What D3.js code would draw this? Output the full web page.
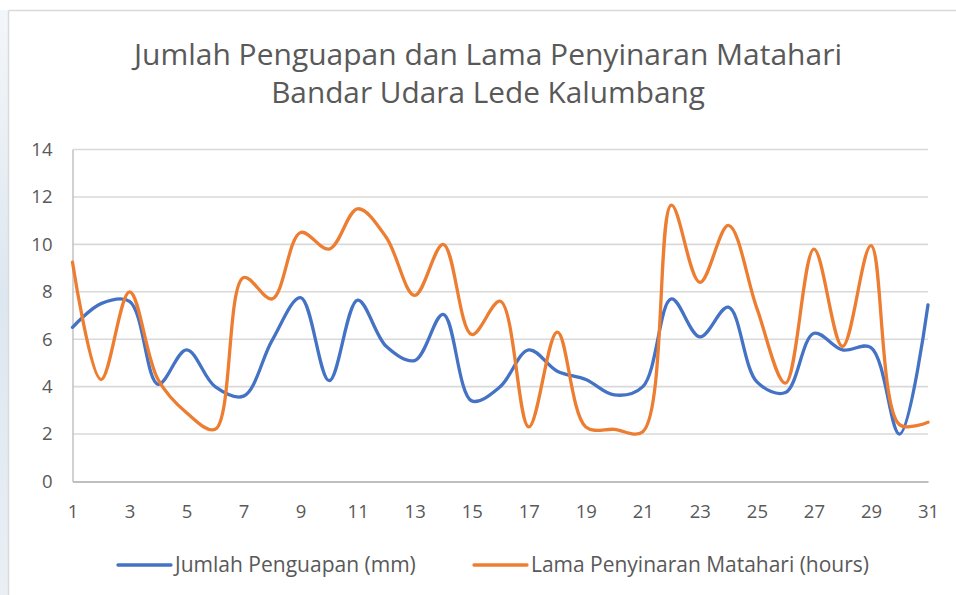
<!DOCTYPE html>
<html>
<head>
<meta charset="utf-8">
<script src="https://cdn.jsdelivr.net/npm/d3@7"></script>
<style>
  html, body { margin: 0; padding: 0; background: #fff; }
  svg { display: block; }
</style>
</head>
<body>
<svg id="chart" width="956" height="595"></svg>
<script>
const days = d3.range(1, 32);
const penguapan = [6.5, 7.5, 7.6, 4.1, 5.55, 4.0, 3.6, 5.95, 7.75, 4.25, 7.65, 5.7, 5.1, 7.05, 3.4, 4.0,
  5.55, 4.65, 4.3, 3.65, 4.0, 7.7, 6.1, 7.35, 4.2, 3.75, 6.25, 5.55, 5.65, 2.0, 7.45];
const penyinaran = [9.25, 4.3, 8.0, 4.3, 2.9, 2.2, 8.6, 7.7, 10.5, 9.8, 11.5, 10.3, 7.85, 10.0, 6.2, 7.6,
  2.3, 6.3, 2.3, 2.2, 2.1, 11.65, 8.4, 10.8, 7.3, 4.15, 9.8, 5.7, 9.95, 2.4, 2.5];
const yTicks = [0, 2, 4, 6, 8, 10, 12, 14];
const xTicks = d3.range(1, 32, 2);
const titleLines = ["Jumlah Penguapan dan Lama Penyinaran Matahari", "Bandar Udara Lede Kalumbang"];
const seriesNames = ["Jumlah Penguapan (mm)", "Lama Penyinaran Matahari (hours)"];
const colors = ["#4472C4", "#ED7D31"];

const svg = d3.select("#chart");
const font = "'Open Sans', 'Segoe UI', sans-serif";

// background strip and frame
const grad = svg.append("defs").append("linearGradient").attr("id", "lg")
  .attr("x1", 0).attr("y1", 0).attr("x2", 0).attr("y2", 1);
grad.append("stop").attr("offset", "0%").attr("stop-color", "#f4f7fa");
grad.append("stop").attr("offset", "50%").attr("stop-color", "#dde7f0");
grad.append("stop").attr("offset", "100%").attr("stop-color", "#e9eff5");
svg.append("rect").attr("x", 0).attr("y", 0).attr("width", 8).attr("height", 595).attr("fill", "url(#lg)");
svg.append("rect").attr("x", 0).attr("y", 0).attr("width", 956).attr("height", 10).attr("fill", "#fff");
svg.append("line").attr("x1", 8.5).attr("x2", 8.5).attr("y1", 10.5).attr("y2", 595)
  .attr("stroke", "#d9d9d9").attr("stroke-width", 1.5);
svg.append("line").attr("x1", 8.5).attr("x2", 956).attr("y1", 10.5).attr("y2", 10.5)
  .attr("stroke", "#d9d9d9").attr("stroke-width", 1.5);

const x = d3.scaleLinear().domain([1, 31]).range([72.5, 928]);
const y = d3.scaleLinear().domain([0, 14]).range([481.5, 149.5]);

function fitText(sel, target) {
  const w = sel.node().getComputedTextLength();
  const fs = parseFloat(sel.attr("font-size"));
  sel.attr("font-size", (fs * target / w).toFixed(2));
}

// title
const tw = [708, 434];
const tb = [65, 103];
titleLines.forEach((t, i) => {
  const s = svg.append("text").attr("x", 488).attr("y", tb[i]).attr("text-anchor", "middle")
    .attr("font-family", font).attr("font-size", 28).attr("fill", "#595959").text(t);
  fitText(s, tw[i]);
});

// gridlines
svg.append("g").selectAll("line").data(yTicks.filter(d => d > 0)).join("line")
  .attr("x1", x(1)).attr("x2", x(31))
  .attr("y1", d => y(d)).attr("y2", d => y(d))
  .attr("stroke", "#d9d9d9").attr("stroke-width", 1.6);

// y axis
const yAxis = svg.append("g").attr("transform", `translate(${x(1)},0)`)
  .call(d3.axisLeft(y).tickValues(yTicks).tickSize(0).tickPadding(20));
yAxis.select(".domain").attr("stroke", "#c6c6c6").attr("stroke-width", 1.6);
yAxis.selectAll("text").attr("font-family", font).attr("font-size", 18.5).attr("fill", "#595959");

// x axis
const xAxis = svg.append("g").attr("transform", `translate(0,${y(0)})`)
  .call(d3.axisBottom(x).tickValues(xTicks).tickSize(0).tickPadding(23).tickFormat(d3.format("d")));
xAxis.select(".domain").attr("stroke", "#bfbfbf").attr("stroke-width", 1.8);
xAxis.selectAll("text").attr("font-family", font).attr("font-size", 18.5).attr("fill", "#595959");

// lines
const line = d3.line().x((d, i) => x(days[i])).y(d => y(d)).curve(d3.curveCatmullRom.alpha(0.5));
[penguapan, penyinaran].forEach((s, i) => {
  svg.append("path").datum(s).attr("d", line).attr("fill", "none")
    .attr("stroke", colors[i]).attr("stroke-width", 3.3)
    .attr("stroke-linejoin", "round").attr("stroke-linecap", "round");
});

// legend
const legX = [118, 474];
const legW = [241, 338];
seriesNames.forEach((n, i) => {
  svg.append("line").attr("x1", legX[i]).attr("x2", legX[i] + 53).attr("y1", 565).attr("y2", 565)
    .attr("stroke", colors[i]).attr("stroke-width", 3.3).attr("stroke-linecap", "round");
  const t = svg.append("text").attr("x", legX[i] + 57).attr("y", 571.5)
    .attr("font-family", font).attr("font-size", 18).attr("fill", "#595959").text(n);
  fitText(t, legW[i]);
});
</script>
</body>
</html>
